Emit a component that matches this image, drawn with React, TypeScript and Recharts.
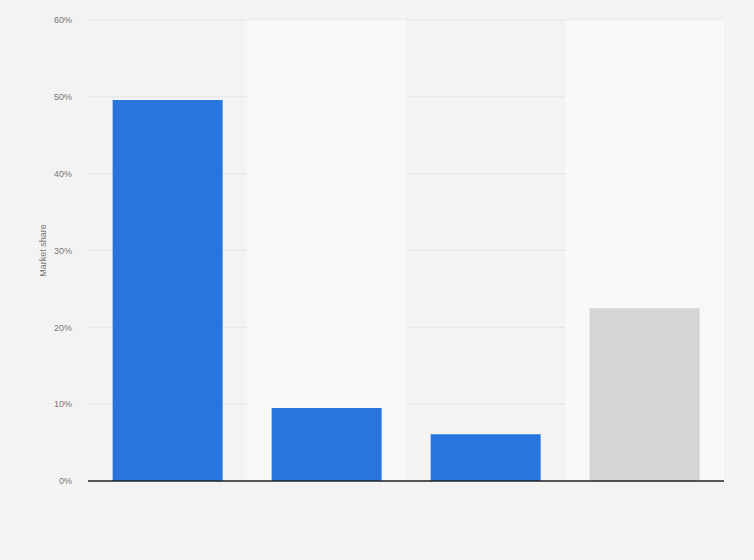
import React from 'react';
import { BarChart, Bar, XAxis, YAxis, CartesianGrid, ReferenceArea, Cell } from 'recharts';

const categories = ['Company A', 'Company B', 'Company C', 'Others'];
const shares = [49.6, 9.5, 6.1, 22.5];
const barColors = ['#2876dd', '#2876dd', '#2876dd', '#d5d5d5'];
const yTicks = [0, 10, 20, 30, 40, 50, 60];

const data = categories.map((name, i) => ({ name, share: shares[i] }));

export default function App() {
  return (
    <div style={{ position: 'absolute', left: 0, top: 0, width: 754, height: 560, background: '#f3f3f3', fontFamily: 'Liberation Sans, Arial, sans-serif' }}>
      <BarChart width={754} height={560} data={data} margin={{ top: 20, right: 30, bottom: 49, left: 0 }} barCategoryGap="15.5%">
        <ReferenceArea x1={categories[1]} x2={categories[1]} fill="#f8f8f8" fillOpacity={1} stroke="none" ifOverflow="visible" />
        <ReferenceArea x1={categories[3]} x2={categories[3]} fill="#f8f8f8" fillOpacity={1} stroke="none" ifOverflow="visible" />
        <CartesianGrid vertical={false} stroke="#d8d8d8" strokeDasharray="1 1" />
        <Bar dataKey="share" isAnimationActive={false}>
          {data.map((d, i) => (
            <Cell key={d.name} fill={barColors[i]} />
          ))}
        </Bar>
        <XAxis dataKey="name" tick={false} tickLine={false} axisLine={{ stroke: '#222', strokeWidth: 1.5 }} height={30} />
        <YAxis
          width={88}
          domain={[0, 60]}
          ticks={yTicks}
          tickFormatter={(v) => `${v}%`}
          axisLine={false}
          tickLine={false}
          tickSize={0}
          tickMargin={16}
          tick={{ fill: '#777', fontSize: 9 }}
          label={{ value: 'Market share', angle: -90, position: 'insideLeft', dx: 38, dy: 0, style: { fill: '#777', fontSize: 9, textAnchor: 'middle' } }}
        />
      </BarChart>
    </div>
  );
}
